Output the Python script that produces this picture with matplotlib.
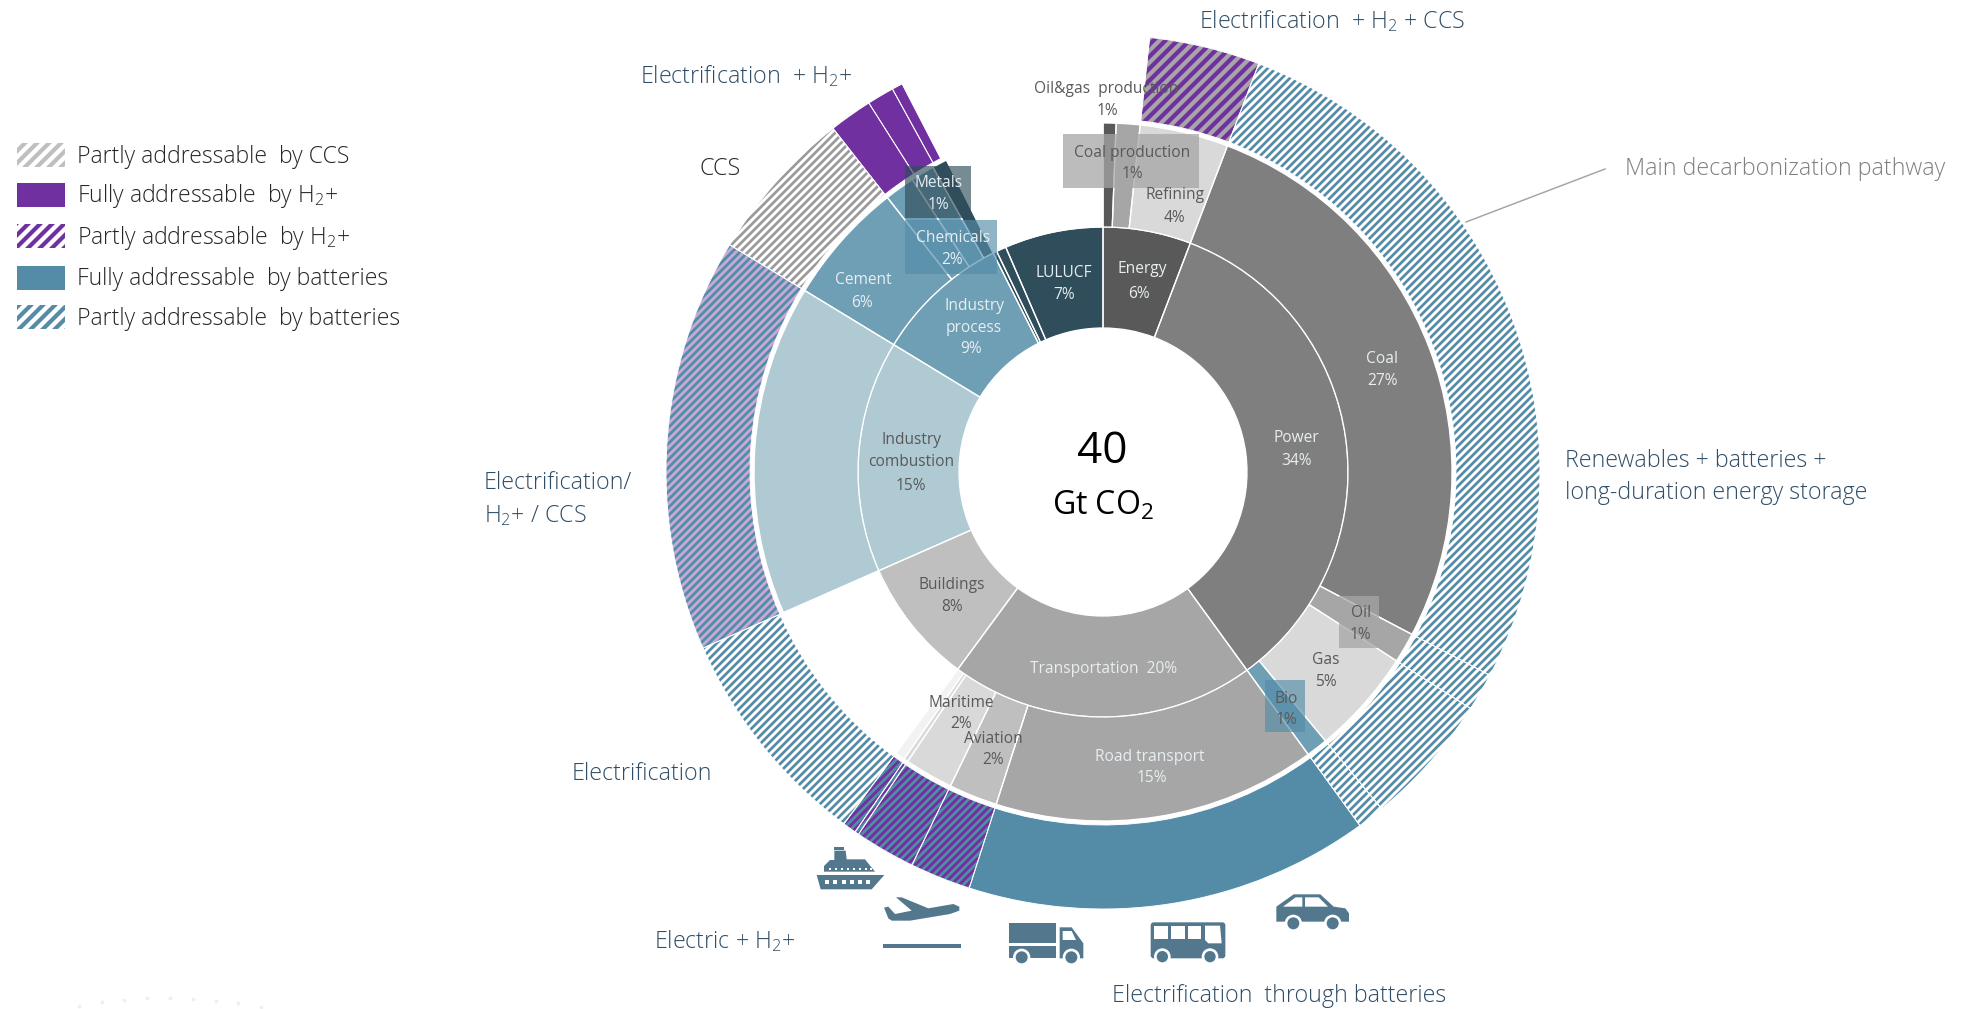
import matplotlib
matplotlib.use("Agg")
import matplotlib.pyplot as plt
from matplotlib.patches import Rectangle, Polygon, Circle, FancyBboxPatch, Patch

plt.rcParams['font.family'] = ['Open Sans', 'DejaVu Sans']
plt.rcParams['font.weight'] = 'light'
plt.rcParams['mathtext.default'] = 'regular'
plt.rcParams['hatch.linewidth'] = 2.7

# parts of the 40 Gt, clockwise from the top
inner_names = ['Energy', 'Power', 'Transportation', 'Buildings', 'Industry combustion',
               'Industry process', 'small 1', 'small 2', 'LULUCF']
inner_values = [5.8, 34.2, 20.1, 8.3, 15.3, 8.9, 0.25, 0.65, 6.5]

mid_names = ['Oil&gas production', 'Coal production', 'Refining', 'Coal', 'Oil', 'Gas', 'Bio',
             'Road transport', 'Aviation', 'Maritime', 'small 1', 'small 2', 'gap buildings',
             'Industry combustion', 'Cement', 'Chemicals a', 'Chemicals b', 'Metals', 'gap top']
mid_values = [0.6, 1.1, 4.1, 26.9, 1.4, 4.9, 1.0, 14.95, 2.25, 2.25, 0.2, 0.45, 8.3,
              15.3, 5.7, 1.4, 1.1, 0.7, 7.4]

outer_names = ['gap', 'Refining', 'Coal', 'Oil', 'Gas', 'Bio', 'Road', 'Aviation', 'Maritime',
               'small 1', 'small 2', 'Buildings', 'Industry combustion', 'Cement',
               'Chemicals a', 'Chemicals b', 'Metals', 'gap top']
outer_values = [1.7, 4.1, 26.9, 1.4, 4.9, 1.0, 14.95, 2.25, 2.25, 0.15, 0.5, 8.3, 15.3, 5.7,
                1.6, 1.0, 0.4, 7.6]

legend_labels = ['Partly addressable  by CCS', 'Fully addressable  by H$_2$+',
                 'Partly addressable  by H$_2$+', 'Fully addressable  by batteries',
                 'Partly addressable  by batteries']

total_top = '40'
total_bottom = 'Gt CO$_2$'

# colours
DGREY = '#595959'
GREY = '#7f7f7f'
MGREY = '#a6a6a6'
SGREY = '#bfbfbf'
LGREY = '#d9d9d9'
XGREY = '#f2f2f2'
TEAL = '#6f9fb4'
LTEAL = '#b0cad4'
DTEAL = '#2f4d5a'
BLUE = '#548ca8'
PURPLE = '#7030a0'
LPURPLE = '#c5a9d6'
NAVY = '#2f4d66'
ICON = '#53788d'

inner_colors = [DGREY, GREY, MGREY, SGREY, LTEAL, TEAL, DTEAL, DTEAL, DTEAL]
mid_colors = [DGREY, MGREY, LGREY, GREY, MGREY, LGREY, TEAL, MGREY, SGREY, LGREY, LGREY, XGREY,
              'none', LTEAL, TEAL, TEAL, TEAL, DTEAL, 'none']
outer_faces = ['none', PURPLE, 'white', 'white', 'white', 'white', BLUE, PURPLE, PURPLE, PURPLE,
               PURPLE, 'white', LPURPLE, 'white', PURPLE, PURPLE, PURPLE, 'none']
outer_hatches = [None, MGREY, BLUE, BLUE, BLUE, BLUE, None, BLUE, BLUE, BLUE, BLUE, BLUE, BLUE,
                 '#9a9a9a', None, None, None, None]

W, H = 1965, 1009
CX, CY = 1103, H - 472

fig = plt.figure(figsize=((W + 0.01) / 72, (H + 0.01) / 72), dpi=72)
ax = fig.add_axes([0, 0, 1, 1])


def ring(values, faces, radius, width, hatches=None, lw=1.3):
    wedges, _ = ax.pie(values, radius=radius, center=(CX, CY), startangle=90, counterclock=False,
                       colors=faces, wedgeprops=dict(width=width, linewidth=0))
    if hatches:
        for wedge, hc in zip(wedges, hatches):
            if hc:
                wedge.set_edgecolor(hc)
                wedge.set_hatch('///')
        # the refining part has wider stripes
        wedges[1].set_hatch('//')
        wedges[1]._hatch_linewidth = 4.2
    # white separators go on top, the hatch colour uses the edge colour
    ax.pie(values, radius=radius, center=(CX, CY), startangle=90, counterclock=False,
           colors=['none'], wedgeprops=dict(width=width, linewidth=lw, edgecolor='white'))


ring(inner_values, inner_colors, 245, 245 - 144)
ring(mid_values, mid_colors, 349, 349 - 245)
ring(outer_values, outer_faces, 437, 437 - 353, outer_hatches, lw=0.9)

ax.set_xlim(0, W)
ax.set_ylim(0, H)
ax.axis('off')


def box(x0, y0, x1, y1, color, alpha):
    ax.add_patch(Rectangle((x0, H - y1), x1 - x0, y1 - y0, facecolor=color, edgecolor='none',
                           alpha=alpha, zorder=5))


box(1063, 134, 1199, 188, MGREY, 0.75)
box(905, 166, 971, 218, DTEAL, 0.65)
box(905, 220, 997, 274, BLUE, 0.65)
box(1265, 680, 1305, 732, BLUE, 0.65)
box(1339, 596, 1379, 648, MGREY, 0.75)


def label(x, y, s, color='#595959', size=15.5, ha='center', weight='normal'):
    ax.text(x, H - y - 1, s, color=color, fontsize=size, ha=ha, va='center', weight=weight, zorder=6)


LIGHT = '#e8eef1'
label(1106, 88, 'Oil&gas  production')
label(1107, 110, '1%')
label(1132, 152, 'Coal production')
label(1132, 173, '1%')
label(1175, 194, 'Refining')
label(1174, 217, '4%')
label(939, 182, 'Metals', LIGHT)
label(938, 204, '1%', LIGHT)
label(953, 237, 'Chemicals', LIGHT)
label(952, 259, '2%', LIGHT)
label(863, 279, 'Cement', LIGHT)
label(862, 302, '6%', LIGHT)
label(1064, 272, 'LULUCF', LIGHT)
label(1064, 294, '7%', LIGHT)
label(1142, 268, 'Energy', LIGHT)
label(1139, 293, '6%', LIGHT)
label(974, 305, 'Industry', LIGHT)
label(974, 327, 'process', LIGHT)
label(971, 348, '9%', LIGHT)
label(1382, 358, 'Coal', LIGHT)
label(1382, 380, '27%', LIGHT)
label(1296, 437, 'Power', LIGHT)
label(1296, 460, '34%', LIGHT)
label(911, 439, 'Industry')
label(911, 461, 'combustion')
label(911, 485, '15%')
label(952, 584, 'Buildings')
label(952, 606, '8%')
label(1104, 668, 'Transportation  20%', LIGHT)
label(1150, 756, 'Road transport', LIGHT)
label(1152, 777, '15%', LIGHT)
label(961, 702, 'Maritime')
label(961, 723, '2%')
label(993, 738, 'Aviation')
label(993, 759, '2%')
label(1286, 698, 'Bio')
label(1286, 719, '1%')
label(1326, 659, 'Gas')
label(1326, 681, '5%')
label(1361, 612, 'Oil')
label(1360, 634, '1%')

label(1102, 451, total_top, 'black', 44)
label(1103, 505, total_bottom, 'black', 32)

BIG = 23.2
label(1199, 20, 'Electrification  + H$_2$ + CCS', NAVY, BIG, 'left', 'light')
label(640, 75, 'Electrification  + H$_2$+', NAVY, BIG, 'left', 'light')
label(720, 168, 'CCS', '#262626', BIG, 'center', 'light')
label(484, 482, 'Electrification/', NAVY, BIG, 'left', 'light')
label(484, 515, 'H$_2$+ / CCS', NAVY, BIG, 'left', 'light')
label(572, 773, 'Electrification', NAVY, BIG, 'left', 'light')
label(654, 940, 'Electric + H$_2$+', NAVY, BIG, 'left', 'light')
label(1112, 995, 'Electrification  through batteries', NAVY, BIG, 'left', 'light')
label(1565, 460, 'Renewables + batteries +', NAVY, BIG, 'left', 'light')
label(1565, 492, 'long-duration energy storage', NAVY, BIG, 'left', 'light')
label(1625, 168, 'Main decarbonization pathway', GREY, BIG, 'left', 'light')

ax.plot([1466, 1605], [H - 222, H - 169], color=MGREY, lw=1.5, zorder=4)

# faint dots at the bottom left
dots_x = [79, 102, 124, 147, 170, 193, 216, 238, 261]
dots_y = [1006, 1002, 1000, 998, 998, 999, 1001, 1003, 1007]
ax.scatter(dots_x, [H - y for y in dots_y], s=14, color='#efefef', linewidths=0, zorder=1)


# icons, traced in the 3x crop of the bottom of the picture
def z(x, y):
    return 800 + x / 3, H - (640 + y / 3)


def poly(pts, color=ICON):
    ax.add_patch(Polygon([z(*p) for p in pts], closed=True, facecolor=color, edgecolor='none', zorder=3))


def rect(x0, y0, x1, y1, color=ICON):
    poly([(x0, y0), (x1, y0), (x1, y1), (x0, y1)], color)


def wheel(x, y, r):
    ax.add_patch(Circle(z(x, y), (r + 8) / 3, facecolor='white', edgecolor='none', zorder=3))
    ax.add_patch(Circle(z(x, y), r / 3, facecolor=ICON, edgecolor='none', zorder=3))


# ship
poly([(50, 705), (253, 705), (215, 748), (62, 748)])
poly([(72, 695), (72, 678), (90, 660), (103, 660), (103, 632), (137, 632), (140, 658), (195, 658),
      (225, 695)])
rect(103, 622, 133, 629)
for x in [75, 100, 125, 150, 175, 198]:
    rect(x, 720, x + 12, 732, 'white')
for x in [88, 106, 124, 142, 160, 178, 196, 210]:
    rect(x, 684, x + 5, 689, 'white')
# plane
poly([(288, 772), (305, 772), (385, 805), (460, 792), (478, 800), (478, 812), (450, 822),
      (330, 842), (275, 842), (265, 835), (252, 803), (265, 800), (285, 822), (335, 812)])
rect(249, 912, 483, 924)
# truck
rect(626, 848, 769, 910)
rect(626, 918, 769, 955)
poly([(779, 862), (815, 862), (850, 910), (850, 955), (779, 955)])
poly([(788, 873), (815, 873), (828, 900), (788, 900)], 'white')
wheel(665, 952, 18)
wheel(814, 952, 18)
# bus
x0, y0 = z(1052, 955)
ax.add_patch(FancyBboxPatch((x0 + 3, y0 + 3), 68.7, 30, boxstyle='round,pad=3', facecolor=ICON,
                            edgecolor='none', zorder=3))
for x in [1063, 1113, 1163]:
    rect(x, 857, x + 41, 897, 'white')
poly([(1215, 857), (1260, 857), (1265, 910), (1225, 910), (1215, 900)], 'white')
wheel(1087, 950, 17)
wheel(1230, 950, 17)
# car
poly([(1429, 800), (1481, 763), (1561, 763), (1601, 800), (1636, 805), (1647, 820), (1647, 845),
      (1429, 845)])
poly([(1449, 800), (1487, 772), (1507, 772), (1507, 800)], 'white')
poly([(1515, 772), (1556, 772), (1584, 800), (1515, 800)], 'white')
wheel(1480, 850, 18)
wheel(1598, 850, 18)

# legend
handles = [Patch(facecolor='white', edgecolor=SGREY, hatch='//', linewidth=0),
           Patch(facecolor=PURPLE, edgecolor=PURPLE, linewidth=0),
           Patch(facecolor='white', edgecolor=PURPLE, hatch='//', linewidth=0),
           Patch(facecolor=BLUE, edgecolor=BLUE, linewidth=0),
           Patch(facecolor='white', edgecolor=BLUE, hatch='//', linewidth=0)]
leg = ax.legend(handles, legend_labels, loc='upper left', bbox_to_anchor=(17 / W, 1 - 143 / H),
                frameon=False, fontsize=23, labelcolor='#262626', borderaxespad=0, borderpad=0,
                handlelength=2.09, handleheight=1.22, handletextpad=0.5, labelspacing=0.595)
for h in leg.legend_handles:
    h._hatch_linewidth = 4.2

fig.savefig('out.png', dpi=72, facecolor='white')
